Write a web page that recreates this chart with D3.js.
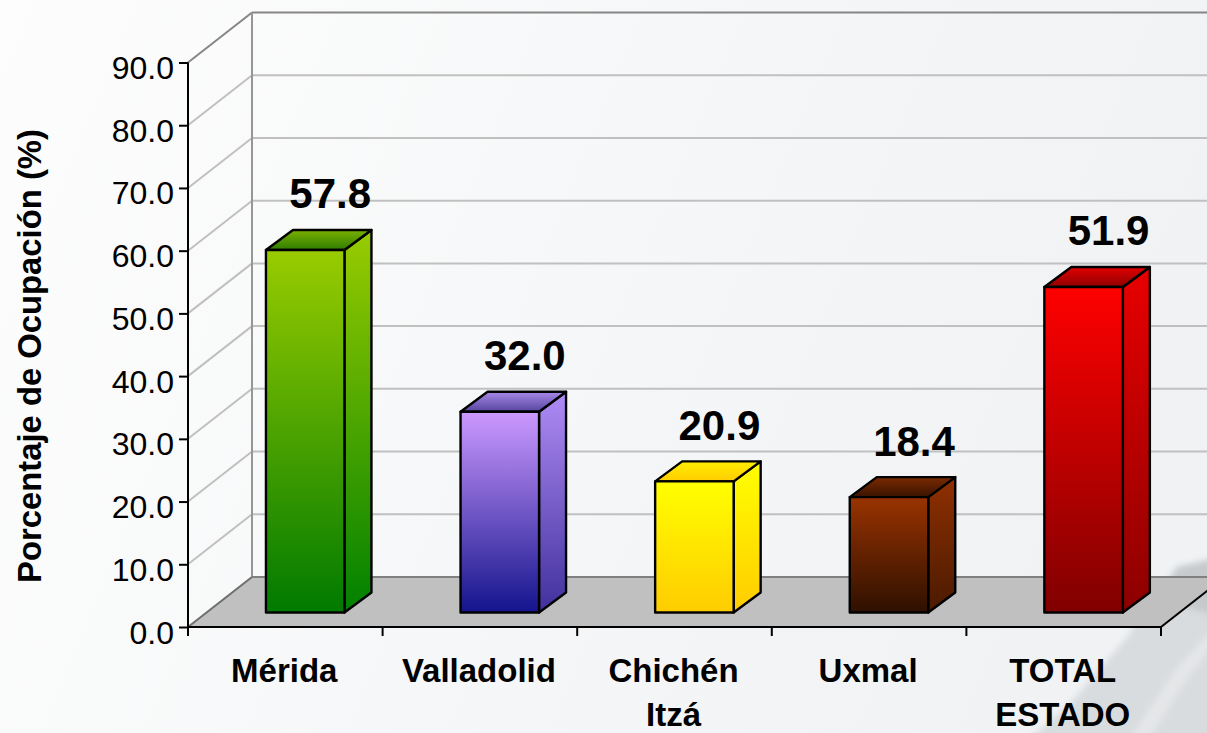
<!DOCTYPE html>
<html><head><meta charset="utf-8">
<script src="https://cdn.jsdelivr.net/npm/d3@7"></script>
<style>html,body{margin:0;padding:0;background:#fff;overflow:hidden}svg{display:block}text{font-family:"Liberation Sans",Arial,sans-serif;fill:#000}</style>
</head><body><svg id="c" width="1207" height="733"></svg>
<script>
const categories=[["Mérida"],["Valladolid"],["Chichén","Itzá"],["Uxmal"],["TOTAL","ESTADO"]];
const values=[57.8,32.0,20.9,18.4,51.9];
const labels=["57.8","32.0","20.9","18.4","51.9"];
const yTicks=[0,10,20,30,40,50,60,70,80,90];
const frontTop=["#99cc00","#cc99ff","#ffff00","#993300","#ff0000"];
const frontBot=["#007a00","#14148c","#ffcc00","#2e1000","#800000"];
const sideTop=["#99cc00","#b08cf5","#ffff00","#8f3000","#e80000"];
const sideBot=["#008000","#40309c","#ffcc00","#4a1a00","#8c0000"];
const topBack=["#7ab000","#a888e8","#ffee00","#7a2a00","#e00000"];
const topFront=["#2f7d00","#55459f","#ffcc00","#3a1400","#900000"];

const W=1207,H=733;
const svg=d3.select("#c");
const defs=svg.append("defs");
const x=d3.scaleBand().domain(d3.range(values.length)).range([188,1161]);
const y=d3.scaleLinear().domain([0,90]).range([627,62.5]);
const wall={dx:64,dy:-50}, base={dx:19.9,dy:-14.5}, depth={dx:27,dy:-20}, bw=78.5;
const grad=(id,a,b)=>{const g=defs.append("linearGradient").attr("id",id).attr("x1",0).attr("y1",0).attr("x2",0).attr("y2",1);
 g.append("stop").attr("offset",0).attr("stop-color",a);g.append("stop").attr("offset",1).attr("stop-color",b);};
values.forEach((v,i)=>{grad("f"+i,frontTop[i],frontBot[i]);grad("s"+i,sideTop[i],sideBot[i]);grad("t"+i,topBack[i],topFront[i]);});
const bg=defs.append("linearGradient").attr("id","bg").attr("x1",0).attr("y1",0).attr("x2",1).attr("y2",0.25);
bg.append("stop").attr("offset",0).attr("stop-color","#fdfdfd");bg.append("stop").attr("offset",1).attr("stop-color","#f0f2f4");
defs.append("filter").attr("id","blur").append("feGaussianBlur").attr("stdDeviation",3);
svg.append("rect").attr("width",W).attr("height",H).attr("fill","url(#bg)");
// faint terrain shape behind the plot, lower right
const blob=svg.append("g").attr("filter","url(#blur)");
blob.append("path").attr("d","M1022,745L1067,707L1127,637L1150,600L1177,567L1230,555L1230,760Z").attr("fill","#d9dcdf");
blob.append("path").attr("d","M1160,600L1177,567L1230,555L1230,620Z").attr("fill","#c6cacd");
blob.append("path").attr("d","M1125,745L1175,670L1230,610L1230,625L1190,675L1145,745Z").attr("fill","#e4e6e8");

const line=(a,b,c,w)=>svg.append("line").attr("x1",a[0]).attr("y1",a[1]).attr("x2",b[0]).attr("y2",b[1]).attr("stroke",c).attr("stroke-width",w);
const x0=x.range()[0],x1=x.range()[1];
// floor
svg.append("polygon").attr("points",[[x0,y(0)],[x0+wall.dx,y(0)+wall.dy],[x1+wall.dx,y(0)+wall.dy],[x1,y(0)]].join(" ")).attr("fill","#c0c0c0");
// grid
yTicks.filter(t=>t>0).forEach(t=>{
 const c=t===90?"#868686":"#c0c0c0",w=2;
 line([x0,y(t)],[x0+wall.dx,y(t)+wall.dy],c,w);
 line([x0+wall.dx,y(t)+wall.dy],[W+5,y(t)+wall.dy],c,w);
});
line([x0+wall.dx,y(90)+wall.dy],[x0+wall.dx,y(0)+wall.dy],"#969696",2);
line([x0,y(0)],[x0+wall.dx,y(0)+wall.dy],"#6e6e6e",2);
line([x0+wall.dx,y(0)+wall.dy],[W+5,y(0)+wall.dy],"#808080",2);
line([x1,y(0)],[x1+wall.dx,y(0)+wall.dy],"#000",2);
// bars
const fbar=values.map((v,i)=>{
 const l=x(i)+(x.bandwidth()-bw)/2+base.dx, b=y(0)+base.dy, t=y(v)+base.dy;
 return {i,l,b,t};
});
const g=svg.selectAll(".bar").data(fbar).join("g").attr("class","bar").attr("stroke","#000").attr("stroke-width",2.4).attr("stroke-linejoin","round");
g.append("polygon").attr("fill",d=>`url(#s${d.i})`).attr("points",d=>[[d.l+bw,d.t],[d.l+bw+depth.dx,d.t+depth.dy],[d.l+bw+depth.dx,d.b+depth.dy],[d.l+bw,d.b]].join(" "));
g.append("polygon").attr("fill",d=>`url(#t${d.i})`).attr("points",d=>[[d.l,d.t],[d.l+depth.dx,d.t+depth.dy],[d.l+bw+depth.dx,d.t+depth.dy],[d.l+bw,d.t]].join(" "));
g.append("rect").attr("fill",d=>`url(#f${d.i})`).attr("x",d=>d.l).attr("y",d=>d.t).attr("width",bw).attr("height",d=>d.b-d.t);
// value labels
svg.selectAll(".val").data(fbar).join("text").attr("class","val").attr("x",d=>d.l+bw/2+25).attr("y",d=>d.t-41.5)
 .attr("text-anchor","middle").attr("font-weight","bold").attr("font-size",42).text(d=>labels[d.i]);
// axes
const ax=svg.append("g").attr("transform",`translate(${x0},0)`).call(d3.axisLeft(y).tickValues(yTicks).tickFormat(d3.format(".1f")).tickSize(9).tickPadding(5));
ax.select(".domain").attr("stroke","#000").attr("stroke-width",2).attr("d",`M0,${y(90)}V${y(0)}`);
ax.selectAll(".tick line").attr("stroke","#000").attr("stroke-width",2);
ax.selectAll("text").attr("font-size",32).attr("dy","0.5em").attr("font-family",'"Liberation Sans"').attr("fill","#000");
const xAx=svg.append("g").attr("transform",`translate(0,${y(0)})`);
xAx.append("line").attr("x1",x0).attr("x2",x1).attr("stroke","#000").attr("stroke-width",2);
xAx.selectAll(".t").data(d3.range(values.length+1)).join("line").attr("class","t")
 .attr("x1",i=>i<values.length?x(i):x1).attr("x2",i=>i<values.length?x(i):x1).attr("y1",0).attr("y2",9).attr("stroke","#000").attr("stroke-width",2);
const cat=svg.selectAll(".cat").data(categories).join("text").attr("class","cat").attr("text-anchor","middle").attr("font-weight","bold").attr("font-size",33);
cat.each(function(d,i){d3.select(this).selectAll("tspan").data(d).join("tspan").attr("x",x(i)+x.bandwidth()/2-1).attr("y",(s,j)=>682+j*44).text(s=>s);});
svg.append("text").attr("transform","translate(41,356) rotate(-90)").attr("text-anchor","middle").attr("font-weight","bold").attr("font-size",32.8).text("Porcentaje de Ocupación (%)");
</script></body></html>
